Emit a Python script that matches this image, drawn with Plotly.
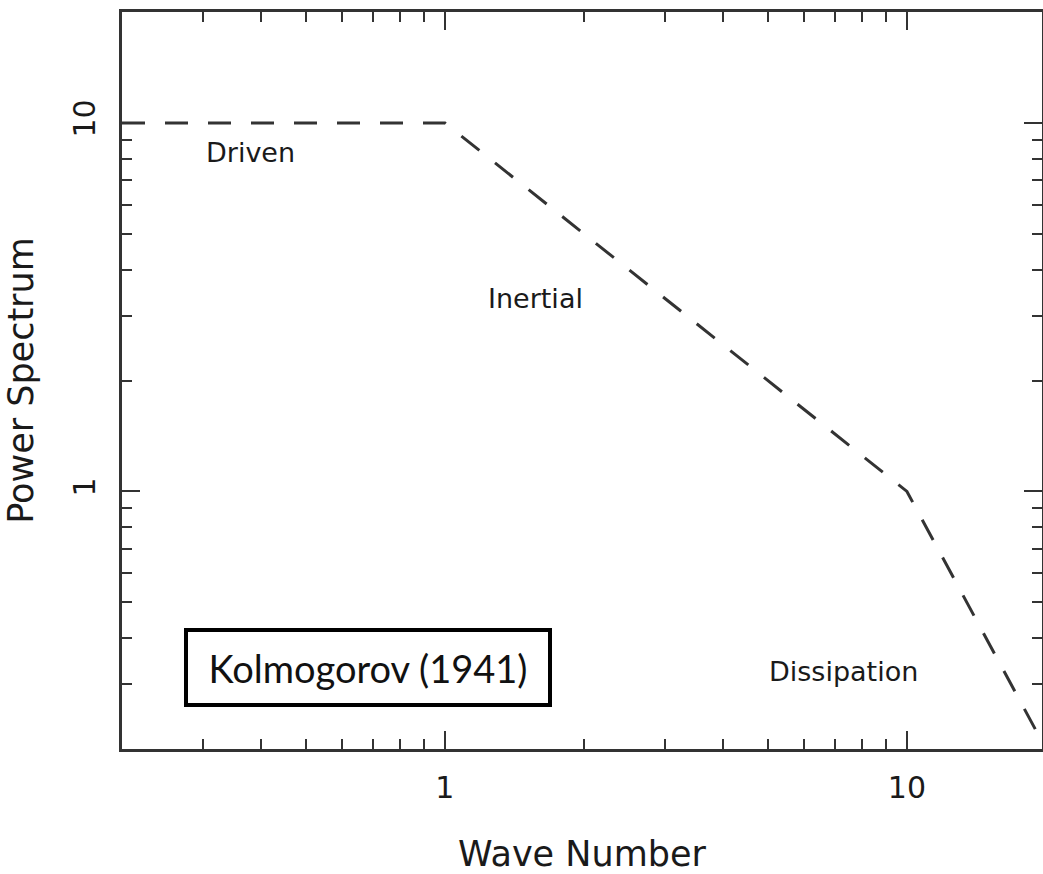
import numpy as np
import plotly.graph_objects as go

# ---- data ----
wave_number = [0.2, 1, 10, 20]
power_spectrum = [10, 10, 1, 0.2]

x_major_ticks = [1, 10]
x_major_labels = ["1", "10"]
x_minor_ticks = [0.3, 0.4, 0.5, 0.6, 0.7, 0.8, 0.9, 2, 3, 4, 5, 6, 7, 8, 9]
y_major_ticks = [1, 10]
y_major_labels = ["1", "10"]
y_minor_ticks = [0.3, 0.4, 0.5, 0.6, 0.7, 0.8, 0.9, 2, 3, 4, 5, 6, 7, 8, 9]

regime_labels = ["Driven", "Inertial", "Dissipation"]
regime_x = [0.38, 1.57, 7.3]
regime_y = [8.3, 3.33, 0.325]

box_text = "Kolmogorov (1941)"

LABEL_FONT = "DejaVu Sans"
AX = "#333333"
TXT = "#1a1a1a"

fig = go.Figure()
fig.add_trace(go.Scatter(
    x=wave_number, y=power_spectrum, mode="lines",
    line=dict(color="#333333", width=3, dash="23px,20px"),
    showlegend=False, hoverinfo="skip",
))

for t, xv, yv in zip(regime_labels, regime_x, regime_y):
    fig.add_annotation(x=np.log10(xv), y=np.log10(yv), xref="x", yref="y",
                       text=t, showarrow=False,
                       font=dict(family=LABEL_FONT, size=27, color=TXT))

fig.add_annotation(x=np.log10(0.68), y=np.log10(0.333), xref="x", yref="y",
                   text=box_text, showarrow=False,
                   font=dict(family="Lato", size=38, color="#111111"),
                   bordercolor="#000000", borderwidth=4, borderpad=2,
                   bgcolor="white", width=356, height=67)

common = dict(
    type="log", showgrid=False, zeroline=False,
    showline=True, linecolor=AX, linewidth=3, mirror="ticks",
    ticks="inside", ticklen=18, tickwidth=2, tickcolor=AX,
    tickfont=dict(family=LABEL_FONT, size=30, color=TXT),
)

fig.update_xaxes(
    **common,
    range=[np.log10(0.2), np.log10(0.2) + 920 / 462],
    tickmode="array", tickvals=x_major_ticks, ticktext=x_major_labels,
    minor=dict(tickmode="array", tickvals=x_minor_ticks, ticks="inside",
               ticklen=10, tickwidth=2, tickcolor=AX),
    ticklabelstandoff=10,
    title=dict(text="Wave Number", font=dict(family=LABEL_FONT, size=35, color=TXT),
               standoff=40),
)
fig.update_yaxes(
    **common,
    range=[np.log10(0.2), np.log10(20)],
    tickmode="array", tickvals=y_major_ticks, ticktext=y_major_labels,
    tickangle=-90,
    minor=dict(tickmode="array", tickvals=y_minor_ticks, ticks="inside",
               ticklen=10, tickwidth=2, tickcolor=AX),
    ticklabelstandoff=12,
    title=dict(text="Power Spectrum", font=dict(family=LABEL_FONT, size=35, color=TXT),
               standoff=23),
)

fig.update_layout(
    width=1043, height=874,
    margin=dict(l=122, r=1, t=12, b=125, autoexpand=False),
    paper_bgcolor="white", plot_bgcolor="white",
)

fig.write_html("out.html")
